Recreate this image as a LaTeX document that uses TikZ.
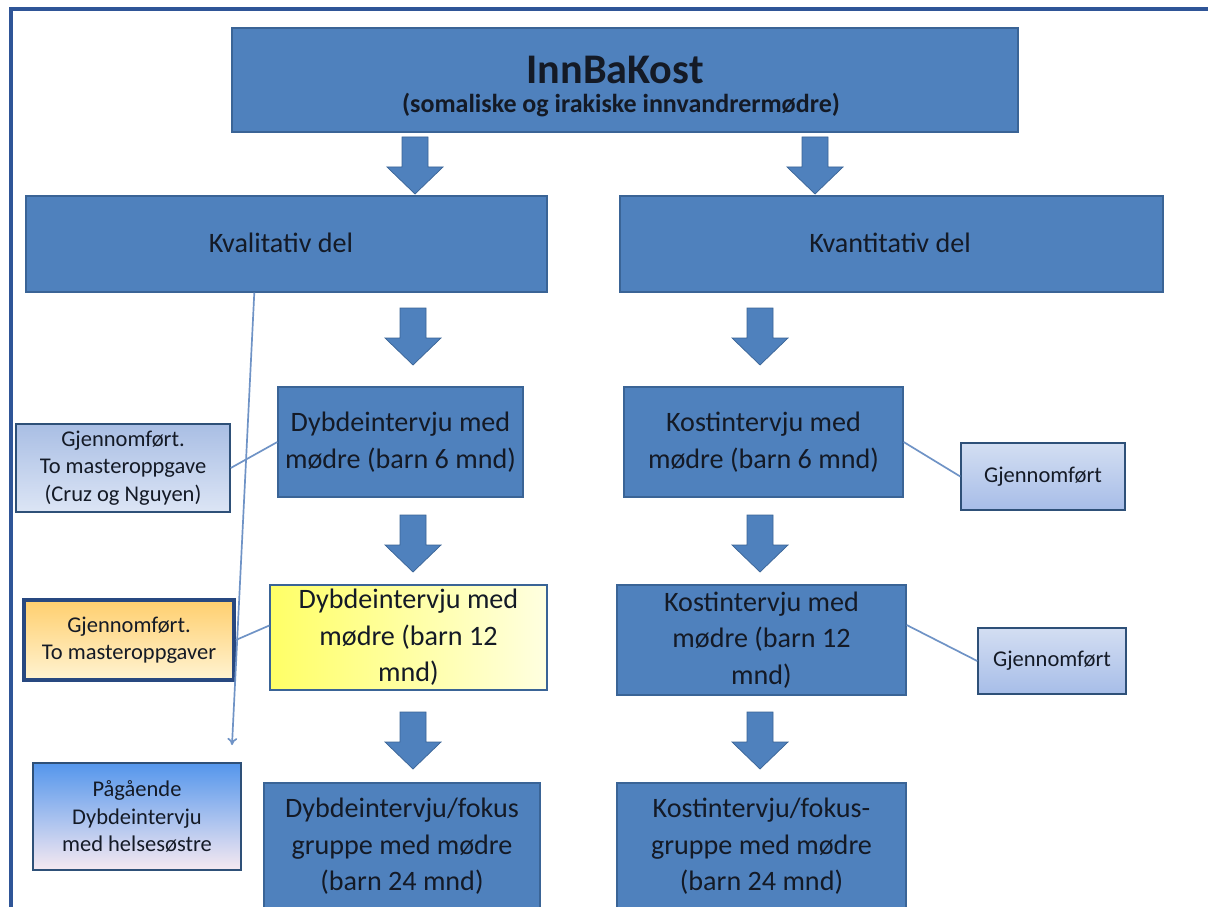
\documentclass[tikz,border=0pt]{standalone}
\usepackage{fontspec}
\setmainfont{Carlito}
\usetikzlibrary{calc,arrows.meta}

\definecolor{boxblue}{HTML}{4F81BD}
\definecolor{boxline}{HTML}{3A6496}
\definecolor{framecol}{HTML}{2F5597}
\definecolor{txtdark}{HTML}{141A26}
\definecolor{linkblue}{HTML}{6F93C6}
\definecolor{notetop}{HTML}{A9BEE4}
\definecolor{notebot}{HTML}{DCE5F5}
\definecolor{donetop}{HTML}{D3DEF2}
\definecolor{donebot}{HTML}{A7BDE8}
\definecolor{warmtop}{HTML}{FFCF6E}
\definecolor{warmbot}{HTML}{FFF3D2}
\definecolor{skytop}{HTML}{5496EC}
\definecolor{skybot}{HTML}{F6E9F1}

\begin{document}
\begin{tikzpicture}[x=0.025cm,y=-0.025cm,
  every node/.style={inner sep=2pt, align=center, text=txtdark},
  bigbox/.style={draw=boxline, line width=0.9pt, fill=boxblue, rectangle,
    font=\fontsize{20}{26}\selectfont},
  notebox/.style={draw=boxline!80!black, line width=1pt, rectangle,
    font=\fontsize{16}{19.5}\selectfont},
  link/.style={draw=linkblue, line width=1.2pt},
  frame/.style={draw=framecol, line width=2.8pt},
  blockarrow/.pic={
    \fill[boxblue, draw=boxline, line width=0.5pt] (-13,0) -- (13,0) -- (13,30) -- (28,30)
      -- (0,57) -- (-28,30) -- (-13,30) -- cycle;}]
\useasboundingbox (0,0) rectangle (1208,906);
\clip (0,0) rectangle (1208,906);
\fill[white] (0,0) rectangle (1208,906);
\draw[frame] (11,910) -- (11,9) -- (1210,9);

% main column boxes
\node[bigbox, minimum width=19.65cm, minimum height=2.6cm] (top) at (625,80) {};
\node (titletxt) at (615,70) {\fontsize{30}{34}\selectfont\bfseries InnBaKost};
\node (subtxt) at (621,105)
  {\fontsize{18.5}{21}\selectfont\bfseries (somaliske og irakiske innvandrermødre)};
\node[bigbox, minimum width=13.025cm, minimum height=2.4cm] (kval) at (286.5,244) {};
\node (kvaltxt) at (281,243) {\fontsize{20}{24}\selectfont Kvalitativ del};
\node[bigbox, minimum width=13.575cm, minimum height=2.4cm] (kvan) at (891.5,244) {};
\node (kvantxt) at (890,243) {\fontsize{20}{24}\selectfont Kvantitativ del};

\node[bigbox, minimum width=6.125cm, minimum height=2.75cm] (dyb6) at (400.5,442)
  {Dybdeintervju med\\mødre (barn 6 mnd)};
\node[bigbox, minimum width=6.975cm, minimum height=2.75cm] (kost6) at (763.5,442)
  {Kostintervju med\\mødre (barn 6 mnd)};
\node[bigbox, fill=none, left color=yellow!60, right color=yellow!12,
  minimum width=6.925cm, minimum height=2.625cm] (dyb12) at (408.5,637.5)
  {Dybdeintervju med\\mødre (barn 12\\mnd)};
\node[bigbox, minimum width=7.225cm, minimum height=2.75cm] (kost12) at (761.5,640)
  {Kostintervju med\\mødre (barn 12\\mnd)};
\node[bigbox, minimum width=6.9cm, minimum height=3.175cm] (dyb24) at (402,846.5)
  {Dybdeintervju/fokus\\gruppe med mødre\\(barn 24 mnd)};
\node[bigbox, minimum width=7.225cm, minimum height=3.175cm] (kost24) at (761.5,846.5)
  {Kostintervju/fokus-\\gruppe med mødre\\(barn 24 mnd)};

% side notes
\node[notebox, top color=notetop, bottom color=notebot,
  minimum width=5.35cm, minimum height=2.2cm] (gj1) at (123,468)
  {Gjennomført.\\To masteroppgave\\(Cruz og Nguyen)};
\node[notebox, top color=warmtop, bottom color=warmbot, draw=framecol!85!black,
  line width=2.6pt, minimum width=5.25cm, minimum height=2.0cm] (gj2) at (129,640)
  {Gjennomført.\\To masteroppgaver};
\node[notebox, top color=skytop, bottom color=skybot,
  minimum width=5.2cm, minimum height=2.675cm] (paa) at (137,816.5)
  {Pågående\\Dybdeintervju\\med helsesøstre};
\node[notebox, top color=donetop, bottom color=donebot,
  minimum width=4.1cm, minimum height=1.675cm] (gjr1) at (1043,476.5) {Gjennomført};
\node[notebox, top color=donetop, bottom color=donebot,
  minimum width=3.7cm, minimum height=1.65cm] (gjr2) at (1052,661) {Gjennomført};

% block arrows
\pic at (415,137) {blockarrow};
\pic at (815,137) {blockarrow};
\foreach \ax in {413,760}
  \foreach \ay in {308,515,712}
    \pic at (\ax,\ay) {blockarrow};

% connectors
\coordinate (paend) at (232,745);
\draw[link, -{To[length=5pt,width=7pt]}] ($(kval.south west)+(229,0)$) -- (paend);
\draw[link] (gj1.east) -- (dyb6.west);
\draw[link] (gj2.east) -- ($(dyb12.west)+(0,-12)$);
\draw[link] (kost6.east) -- (gjr1.west);
\draw[link] ($(kost12.east)+(0,-15)$) -- (gjr2.west);
\end{tikzpicture}
\end{document}
